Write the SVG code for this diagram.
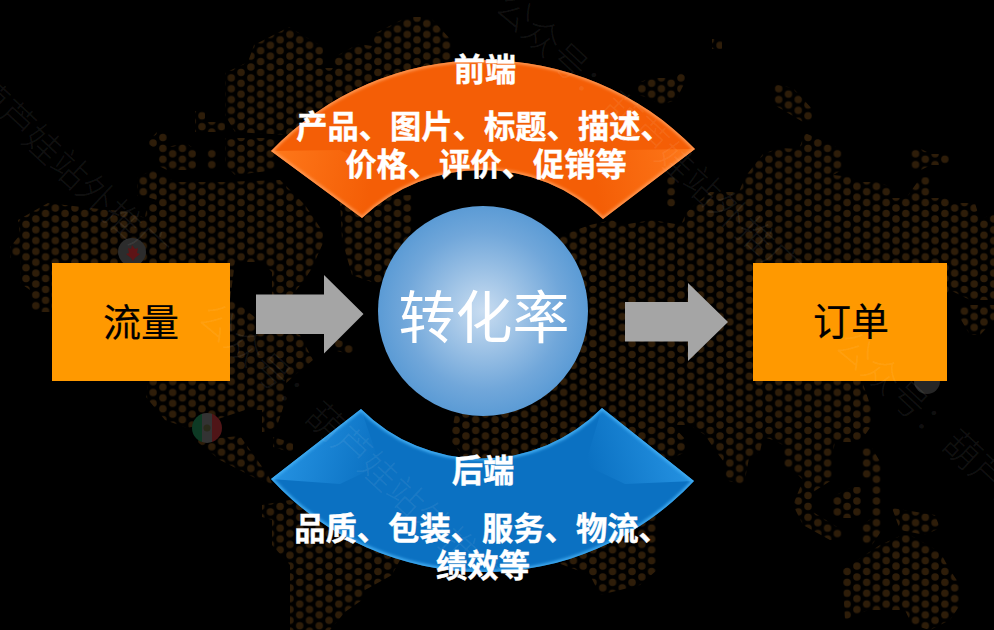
<svg xmlns="http://www.w3.org/2000/svg" width="994" height="630" viewBox="0 0 994 630">
<style>
.cjk{font-family:"Noto Sans CJK SC","Liberation Sans",sans-serif}
.lbl{font-size:31.3px;font-weight:700;fill:#fff;text-anchor:middle;stroke:#fff;stroke-width:.4px}
.box{fill:#ff9900}
.nodetext{font-size:38px;fill:#000;text-anchor:middle;stroke:#000;stroke-width:.2px}
.arrow{fill:#a5a5a5}
.wm{font-size:36.6px;font-weight:300;fill:#fff;fill-opacity:.07}
</style>
<defs>
<pattern id="dots" patternUnits="userSpaceOnUse" x="778.7" y="88.7" width="19.55" height="10.85">
<g fill="#2e1d09"><circle cx="0" cy="0" r="3.7"/><circle cx="19.55" cy="0" r="3.7"/><circle cx="0" cy="10.85" r="3.7"/><circle cx="19.55" cy="10.85" r="3.7"/><circle cx="9.775" cy="5.425" r="3.7"/></g>
</pattern>
<radialGradient id="ball" cx=".5" cy=".5" r=".5"><stop offset="0" stop-color="#c9ddf1"/><stop offset=".75" stop-color="#71a7da"/><stop offset="1" stop-color="#5b9bd5"/></radialGradient>
<linearGradient id="blueL" gradientUnits="userSpaceOnUse" x1="271" y1="440" x2="375" y2="470"><stop offset="0" stop-color="#2f9fee" stop-opacity=".8"/><stop offset="1" stop-color="#2f9fee" stop-opacity="0"/></linearGradient>
<linearGradient id="blueR" gradientUnits="userSpaceOnUse" x1="694" y1="440" x2="590" y2="470"><stop offset="0" stop-color="#2f9fee" stop-opacity=".8"/><stop offset="1" stop-color="#2f9fee" stop-opacity="0"/></linearGradient>
<linearGradient id="orL" gradientUnits="userSpaceOnUse" x1="271" y1="170" x2="370" y2="190"><stop offset="0" stop-color="#ff7a1c" stop-opacity=".9"/><stop offset="1" stop-color="#ff7a1c" stop-opacity="0"/></linearGradient>
<linearGradient id="orR" gradientUnits="userSpaceOnUse" x1="695" y1="170" x2="596" y2="190"><stop offset="0" stop-color="#ff7a1c" stop-opacity=".9"/><stop offset="1" stop-color="#ff7a1c" stop-opacity="0"/></linearGradient>
<filter id="soft" x="-10%" y="-10%" width="120%" height="120%"><feGaussianBlur stdDeviation="1.6"/></filter>
<path id="orangeShape" d="M271 151A295 295 0 0 1 695 149L603 219A174 174 0 0 0 362 218Z"/>
<path id="blueShape" d="M271 479A289 289 0 0 0 694 481L602 408A170 170 0 0 1 361 409Z"/>
<clipPath id="orangeClip"><use href="#orangeShape"/></clipPath>
<clipPath id="blueClip"><use href="#blueShape"/></clipPath>
<clipPath id="land">
<polygon points="225,73 248,62 254,45 289,27 323,47 323,68 333,68 333,58 358,44 372,46 372,35 407,17 430,17 451,40 451,65 480,85 500,125 400,170 300,172 290,135 235,132 225,115"/>
<polygon points="195,111 205,111 205,122 225,122 225,132 195,132"/>
<polygon points="147,143 157,132 167,132 167,147 186,143 196,150 196,170 167,170 157,165 157,150"/>
<polygon points="206,148 216,148 216,170 206,170"/>
<polygon points="225,138 275,138 275,170 235,175 225,165"/>
<polygon points="225,182 280,180 305,205 323,232 323,243 312,268 303,282 292,295 272,295 272,272 262,262 235,262 230,300 240,305 258,320 300,335 313,360 295,375 284,385 284,405 275,432 262,432 262,410 245,410 200,425 187,428 165,420 146,397 148,381 60,300 50,312 30,312 30,290 20,283 20,258 10,258 10,247 20,235 18,220 48,203 90,208 130,212 145,218 147,205 157,200 147,197 137,196 137,178 152,170 167,178 178,182"/>
<polygon points="340,198 412,195 412,228 400,260 380,285 352,275 342,240"/>
<polygon points="333,338 353,345 353,355 333,350"/>
<polygon points="195,440 240,436 268,475 273,485 255,478 220,460"/>
<polygon points="273,437 293,443 293,453 273,447"/>
<polygon points="262,505 290,500 400,560 392,575 365,590 362,600 345,612 330,630 290,630 290,565 272,545 272,520 262,517"/>
<polygon points="590,225 612,220 622,225 652,220 681,225 686,213 691,208 710,192 739,192 745,177 763,154 779,148 799,149 805,133 828,143 842,150 842,170 833,175 852,177 857,182 877,182 892,187 892,198 906,198 921,177 931,177 931,198 945,198 955,203 975,203 980,220 994,213 994,300 970,300 950,290 862,381 872,410 872,425 860,442 835,442 832,458 832,480 813,492 813,512 842,530 842,540 830,540 803,525 793,505 803,480 793,470 783,468 783,445 773,440 763,437 760,452 749,458 744,485 725,480 724,462 715,450 705,435 690,425 672,425 686,440 686,452 672,458 655,470 657,530 657,570 640,585 600,595 590,575 550,560 450,440 455,415 470,380 520,250"/>
<polygon points="960,305 994,305 994,320 980,335 970,335 960,318"/>
<polygon points="636,84 650,78 676,78 681,72 687,78 676,100 661,105 648,98 636,94"/>
<polygon points="666,175 676,175 676,208 666,208"/>
<polygon points="712,39 722,39 722,49 712,49"/>
<polygon points="774,84 793,88 813,110 813,122 803,122 783,110 774,105"/>
<polygon points="911,149 921,149 931,154 950,154 950,165 931,165 921,170 911,170"/>
<polygon points="862,448 872,448 882,465 882,530 872,545 862,545 862,525 872,518 872,480 862,478"/>
<polygon points="832,497 852,487 862,487 862,518 832,518"/>
<polygon points="892,508 935,515 940,528 925,535 900,530"/>
<polygon points="902,535 910,535 940,552 950,570 960,585 960,605 950,620 930,630 912,625 905,610 868,610 845,620 842,570 880,545"/>
</clipPath>
<clipPath id="flagA"><circle cx="132" cy="252" r="14"/></clipPath>
<clipPath id="flagB"><circle cx="207" cy="428" r="15"/></clipPath>
</defs>
<rect id="bg" width="994" height="630" fill="#000"/>
<g id="map">
<rect width="994" height="630" fill="url(#dots)" clip-path="url(#land)"/>
<g clip-path="url(#flagA)"><rect x="118" y="238" width="28" height="28" fill="#2c2c2c"/><path d="M132 245l3 4 3-1-1 5 3 1-5 4-2 3-2-3-5-4 3-1-1-5 3 1z" fill="#5e1416"/></g>
<g clip-path="url(#flagB)"><rect x="192" y="413" width="10" height="30" fill="#0d3a24"/><rect x="202" y="413" width="10" height="30" fill="#333"/><rect x="212" y="413" width="10" height="30" fill="#4f1517"/><circle cx="207" cy="428" r="3.5" fill="#2a2a1a"/></g>
<circle cx="927" cy="381" r="13" fill="#262626"/>
</g>
<g id="connectors">
<polygon class="arrow" points="256,294.5 324,294.5 324,275 363.5,314 324,353.5 324,334 256,334"/>
<polygon class="arrow" points="625,302 688,302 688,283 728,322 688,361 688,341.5 625,341.5"/>
</g>
<g id="node-traffic"><rect class="box" x="52" y="263" width="178" height="118"/><text class="cjk nodetext" x="141" y="336">流量</text></g>
<g id="node-order"><rect class="box" x="753" y="263" width="194" height="118"/><text class="cjk nodetext" x="851" y="335">订单</text></g>
<g id="node-rate"><circle cx="483" cy="311" r="105" fill="url(#ball)"/><text class="cjk" x="484" y="338" font-size="57" fill="#fff" text-anchor="middle">转化率</text></g>
<g id="node-front">
<use href="#orangeShape" fill="#f45e06"/>
<g clip-path="url(#orangeClip)">
<polygon points="271,151 362,218 380,170 340,150" fill="url(#orL)"/>
<polygon points="695,149 603,219 585,170 625,150" fill="url(#orR)"/>
<use href="#orangeShape" fill="none" stroke="#ff9c58" stroke-width="3.5" filter="url(#soft)"/>
</g>
<text class="cjk lbl" x="485" y="81">前端</text>
<text class="cjk lbl" x="484" y="138">产品、图片、标题、描述、</text>
<text class="cjk lbl" x="486" y="176">价格、评价、促销等</text>
</g>
<g id="node-back">
<use href="#blueShape" fill="#0b71c2"/>
<g clip-path="url(#blueClip)">
<polygon points="271,479 361,409 380,465 340,484" fill="url(#blueL)"/>
<polygon points="694,481 602,408 585,465 625,484" fill="url(#blueR)"/>
<use href="#blueShape" fill="none" stroke="#42aef3" stroke-width="4" filter="url(#soft)"/>
</g>
<text class="cjk lbl" x="483" y="482">后端</text>
<text class="cjk lbl" x="482" y="540">品质、包装、服务、物流、</text>
<text class="cjk lbl" x="483" y="577">绩效等</text>
</g>
<g id="watermark">
<text class="cjk wm" transform="translate(-140,-8) rotate(43)">公众号：葫芦娃站外推广</text>
<text class="cjk wm" transform="translate(196,319) rotate(43)">公众号：葫芦娃站外推广</text>
<text class="cjk wm" transform="translate(493,9) rotate(43)">公众号：葫芦娃站外推广</text>
<text class="cjk wm" transform="translate(833,347) rotate(43)">公众号：葫芦娃站外推广</text>
</g>
</svg>
